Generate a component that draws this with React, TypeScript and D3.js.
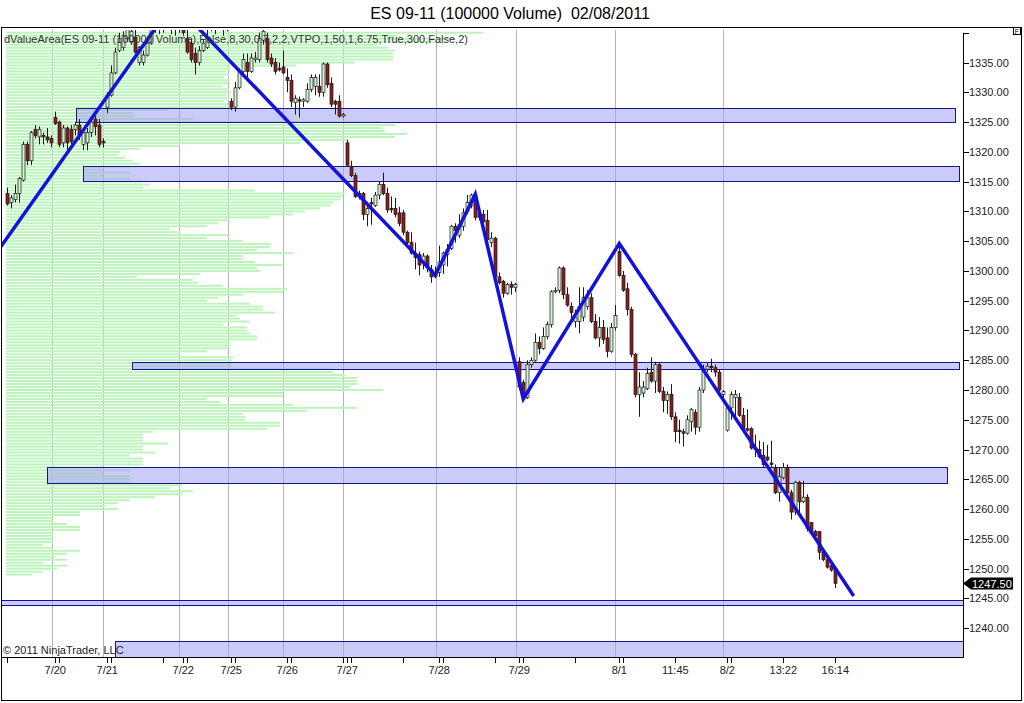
import * as d3 from "d3";

const chartTitle = "ES 09-11 (100000 Volume)  02/08/2011";
const indicatorLabel =
  "dValueArea(ES 09-11 (100000 Volume),False,8,30,0.7,2,2,VTPO,1,50,1,6.75,True,300,False,2)";
const copyright = "© 2011 NinjaTrader, LLC";

// open, high, low, close for each 100000-contract bar
const bars: [number, number, number, number][] = [
  [1313, 1314, 1311, 1311.25], [1311.5, 1312.75, 1310.5, 1312.25], [1312, 1314.5, 1311.5, 1313], [1313, 1315.75, 1311.5, 1315.5],
  [1315.25, 1321.75, 1315, 1321.25], [1321.25, 1321.75, 1317.75, 1318.5], [1318.5, 1323.5, 1317.75, 1323.25], [1323.75, 1324.5, 1322.25, 1322.75],
  [1322.5, 1324.25, 1321.25, 1323.75], [1322.75, 1323.25, 1321.25, 1322.5], [1322.5, 1324, 1321.5, 1322], [1322.25, 1322.75, 1320.75, 1321.5],
  [1325.75, 1326.75, 1324.5, 1324.75], [1325, 1325.25, 1320.75, 1321.25], [1321.5, 1324.5, 1320.75, 1324], [1324, 1324.25, 1320.25, 1321.5],
  [1323.75, 1324.5, 1321.25, 1321.75], [1323.75, 1325, 1322.75, 1324.5], [1324.5, 1325.5, 1322, 1322.75], [1321.25, 1324, 1320.25, 1323.25],
  [1321.5, 1324, 1320.25, 1323.25], [1323.25, 1325.75, 1322.5, 1325], [1325.5, 1326, 1322.75, 1324.25], [1324.5, 1325.5, 1320.75, 1321.25],
  [1321.75, 1322.25, 1320.75, 1321.5], [1327.5, 1330, 1326.5, 1329.5], [1329.5, 1334.5, 1329.25, 1333.25], [1333.25, 1337.5, 1333, 1336.75],
  [1337, 1340, 1336.75, 1339], [1337.5, 1340.25, 1337, 1339.5], [1339, 1342, 1338.5, 1341], [1338.5, 1341.5, 1338, 1340.25],
  [1339.25, 1340.5, 1336.5, 1336.75], [1335, 1337.75, 1334.5, 1337.5], [1335, 1337, 1334.5, 1336.25], [1336.25, 1338.75, 1336, 1338.25],
  [1338.25, 1342, 1338, 1341.5], [1341.5, 1343.5, 1340, 1342.75], [1342.75, 1344, 1339.75, 1341], [1341, 1343, 1340, 1342.5],
  [1342.5, 1345, 1341.5, 1344.25], [1344.25, 1345.25, 1339.75, 1341.5], [1341.5, 1344, 1339.5, 1343], [1343, 1343.75, 1340, 1341.25],
  [1341.25, 1342, 1339.5, 1340], [1339, 1340.5, 1336.5, 1336.75], [1338.25, 1339, 1335, 1335.5], [1336.5, 1337.5, 1333, 1335],
  [1335, 1337.75, 1334.5, 1337], [1337, 1338.75, 1336.75, 1338.25], [1337.5, 1340.5, 1337.25, 1339], [1340.75, 1343, 1340.25, 1342.5],
  [1342.5, 1343.5, 1339.75, 1341], [1341, 1342.5, 1340.5, 1342], [1342, 1342.5, 1339.5, 1340.75], [1340.75, 1341.75, 1340.25, 1341.25],
  [1328.5, 1329, 1327, 1327.5], [1327.5, 1331.75, 1326.75, 1330.75], [1330.75, 1334, 1330.5, 1333.5], [1333.5, 1336.5, 1332.5, 1335.5],
  [1335, 1336.5, 1332.5, 1333.5], [1333.5, 1336.5, 1333.25, 1335.75], [1335.5, 1336.75, 1335, 1335.75], [1335.5, 1340, 1335, 1339],
  [1338.75, 1341, 1338, 1340.25], [1339, 1340, 1335, 1335.5], [1335.75, 1336.5, 1334.25, 1334.75], [1335, 1335.75, 1333, 1333.5],
  [1334, 1335, 1333.5, 1333.75], [1334.25, 1337, 1333, 1333.25], [1332.5, 1334, 1330, 1332], [1332, 1333, 1327.5, 1328.5],
  [1328.25, 1329.5, 1326.25, 1329], [1328.75, 1329.25, 1325.75, 1328.5], [1328.5, 1329, 1327.5, 1328.75], [1328.5, 1331.5, 1328.25, 1330.5],
  [1330.5, 1333, 1330, 1332.5], [1331, 1333, 1329.5, 1332.5], [1331, 1333, 1329.25, 1330], [1330, 1335, 1329.25, 1334.75],
  [1334.75, 1335, 1330.75, 1331.25], [1331.5, 1332.5, 1327.5, 1328], [1328.5, 1328.75, 1326.25, 1328], [1328.5, 1329.5, 1325.75, 1326],
  [1326, 1326.5, 1325.75, 1326.25], [1321.5, 1322, 1317.5, 1317.75], [1317.5, 1318.5, 1315.75, 1316], [1316, 1316.5, 1312.25, 1312.5],
  [1313, 1313.5, 1312, 1312.5], [1313, 1313.25, 1308.5, 1309.5], [1309.5, 1311.5, 1307.5, 1310.5], [1311.5, 1312.25, 1307.75, 1311.25],
  [1311, 1313.25, 1310.75, 1312.75], [1312.75, 1315, 1312, 1314.5], [1314.5, 1316.5, 1312.75, 1313], [1313, 1314, 1309.75, 1310.25],
  [1310.5, 1312.5, 1309.75, 1310.25], [1310.5, 1312.25, 1309, 1309.5], [1309.75, 1310.75, 1307.5, 1308], [1309.75, 1310.25, 1306, 1306.5],
  [1306.5, 1306.75, 1304, 1304.75], [1304.75, 1306.5, 1302.75, 1303], [1303, 1304.75, 1300.25, 1302.25], [1302.75, 1303.25, 1299.25, 1301],
  [1301.5, 1303, 1300.25, 1302.5], [1302.5, 1302.75, 1299.75, 1300.5], [1300.25, 1301, 1298, 1299], [1299, 1300.75, 1298.75, 1299.75],
  [1299.75, 1304.25, 1299, 1301.5], [1301, 1303.25, 1299.5, 1303], [1302.75, 1304.5, 1300.75, 1303.5], [1303.75, 1307.75, 1303.5, 1307.5],
  [1307.5, 1308, 1304.75, 1306.75], [1306, 1309.5, 1305.5, 1307.75], [1307.5, 1310.5, 1306.75, 1309.75], [1310, 1312.75, 1309.5, 1311.5],
  [1311, 1313, 1310.5, 1312.75], [1312.75, 1313.25, 1308.5, 1309], [1309.75, 1310.25, 1308.5, 1309], [1309.5, 1310.25, 1307.75, 1308.25],
  [1308.5, 1310.25, 1304.75, 1305.25], [1304.75, 1306.5, 1304, 1305.5], [1305.5, 1305.75, 1298.75, 1299], [1299, 1299.75, 1297.75, 1298],
  [1298.25, 1298.5, 1295.5, 1296.25], [1296.25, 1298, 1296, 1297.75], [1297.75, 1298.25, 1296, 1297.25], [1297.25, 1298, 1296.5, 1297.75],
  [1284.75, 1285.5, 1280, 1280.5], [1281.25, 1281.75, 1278.25, 1278.75], [1278.75, 1285, 1278.5, 1284.25], [1284.25, 1285.5, 1283.75, 1285],
  [1285, 1289.5, 1284.75, 1288], [1288, 1289, 1286, 1287], [1287, 1290.5, 1286.75, 1289], [1289, 1291.5, 1288.5, 1291],
  [1291, 1296.75, 1290.5, 1296.5], [1296.5, 1297.25, 1296.25, 1296.75], [1296.75, 1300.75, 1296.25, 1300.5], [1300.5, 1300.75, 1295.25, 1296],
  [1296, 1297.25, 1294, 1294.25], [1294, 1294.75, 1291.75, 1293], [1291.5, 1293.5, 1290.5, 1292.25], [1291.5, 1297.25, 1289.5, 1294],
  [1292.25, 1297.25, 1291.5, 1295.5], [1294, 1296.75, 1293.5, 1295.5], [1295.5, 1296.25, 1291.25, 1291.5], [1291.5, 1292.75, 1288.5, 1288.75],
  [1288.75, 1292.25, 1287.25, 1290.5], [1290.5, 1291.75, 1287.75, 1288.5], [1288.75, 1290.5, 1285.5, 1286.5], [1286.5, 1291.25, 1286.25, 1290.5],
  [1290.5, 1294.25, 1290, 1292.5], [1303.25, 1304.5, 1299, 1299.25], [1299.25, 1300, 1296.5, 1296.75], [1297, 1298, 1292.5, 1293.5],
  [1293.5, 1294, 1285.5, 1286], [1286, 1286.25, 1278.75, 1279.25], [1279.25, 1283, 1275.5, 1280.5], [1279.5, 1281.5, 1278.75, 1280.5],
  [1280.25, 1283.75, 1280, 1282.75], [1283, 1285.5, 1281.25, 1281.5], [1281.5, 1284.75, 1279.5, 1284.25], [1284.25, 1284.5, 1279.5, 1279.75],
  [1279.75, 1280.5, 1276.25, 1278.25], [1278.25, 1279.75, 1276, 1279.25], [1279.25, 1281, 1275, 1275.5], [1275.5, 1276.25, 1271.25, 1273],
  [1273.25, 1275, 1271, 1273], [1273, 1273.5, 1270.5, 1272.75], [1272.75, 1275.75, 1272.5, 1275], [1274.75, 1277, 1273, 1276.75],
  [1276.25, 1276.75, 1272.5, 1273.75], [1273.75, 1280.5, 1273, 1280], [1280, 1284.25, 1279.5, 1283.5], [1283.5, 1284.5, 1283, 1284],
  [1284, 1285.25, 1283, 1283.75], [1283.75, 1284.25, 1282.25, 1283], [1283, 1283.5, 1279.75, 1280], [1279.25, 1280, 1278.75, 1279.75],
  [1273.25, 1277.5, 1273, 1277], [1277, 1279.75, 1275, 1279.25], [1278.75, 1280, 1275.5, 1279.25], [1278.75, 1279.5, 1275.5, 1275.75],
  [1275.75, 1277, 1273.25, 1273.5], [1273.5, 1276.75, 1273, 1273.25], [1273.5, 1273.75, 1270, 1270.25], [1270.25, 1272.5, 1268.75, 1270],
  [1270, 1271.5, 1268.5, 1268.75], [1269, 1271.25, 1267, 1267.5], [1268.75, 1270.75, 1268, 1268.25], [1267.75, 1271.5, 1267, 1267.5],
  [1267, 1267.5, 1262.5, 1262.75], [1262.75, 1267, 1261.25, 1265.5], [1265.25, 1267.75, 1265, 1267], [1267, 1267.5, 1262.5, 1262.75],
  [1262.75, 1263.25, 1258.25, 1259.5], [1259.5, 1264.75, 1259, 1264.5], [1264.5, 1264.75, 1259.5, 1261.25], [1261.25, 1264.75, 1261, 1262],
  [1262, 1262.5, 1256.25, 1256.75], [1257.75, 1257.75, 1255.75, 1256], [1256.25, 1256.5, 1255.25, 1255.5], [1256.25, 1256.25, 1251.5, 1252.75],
  [1252.75, 1253, 1251.25, 1251.5], [1251.5, 1251.75, 1250, 1250.25], [1250.5, 1251, 1249.5, 1249.75], [1250, 1250.25, 1246.75, 1247.5],
];

// volume profile, one row per half point from the top level downward
const profileTop = 1340;
const profileStep = 0.5;
const profileVolume = [
  477, 391, 449, 434, 372, 382, 389, 387, 387, 387, 349, 290, 224, 220, 223, 218, 224, 222, 216, 223,
  225, 220, 223, 218, 222, 224, 162, 127, 127, 187, 374, 389, 376, 379, 401, 389, 342, 294, 174, 134,
  114, 112, 119, 126, 134, 124, 97, 124, 97, 124, 137, 144, 137, 249, 339, 337, 334, 327, 324, 314,
  299, 287, 264, 224, 212, 201, 164, 174, 224, 201, 237, 264, 264, 251, 287, 237, 237, 249, 276, 251,
  254, 194, 131, 187, 192, 217, 281, 277, 237, 212, 201, 244, 257, 257, 269, 231, 234, 244, 217, 241,
  241, 244, 251, 251, 224, 224, 224, 201, 174, 227, 226, 226, 226, 327, 327, 339, 351, 351, 351, 344,
  377, 277, 277, 201, 214, 287, 351, 301, 237, 239, 239, 274, 274, 261, 147, 137, 137, 137, 162, 137,
  137, 149, 124, 137, 137, 137, 97, 124, 97, 124, 124, 124, 176, 164, 187, 176, 149, 124, 112, 99,
  112, 74, 74, 47, 47, 61, 74, 74, 47, 47, 47, 47, 37, 47, 74, 61, 49, 61, 37, 61,
  51, 37, 26,
];

// value-area zones: bar index span and price span
const zoneFrom = [17.1, 19, 31.1, 10, -3, 26.9];
const zoneTo = [236.9, 238, 237.9, 235, 240, 240];
const zoneLow = [1325, 1315, 1283.5, 1264.33, 1243.85, 1234];
const zoneHigh = [1327.3, 1317.6, 1284.75, 1267, 1244.75, 1237.85];

// zigzag swing points
const swingBar = [-4, 41.6, 107, 117, 129, 153, 211.6];
const swingPrice = [1301.8, 1345.1, 1299.3, 1312.9, 1278.5, 1304.6, 1245.4];

const priceTicks = [1240, 1245, 1250, 1255, 1260, 1265, 1270, 1275, 1280, 1285, 1290, 1295, 1300, 1305, 1310, 1315, 1320, 1325, 1330, 1335, 1340];
const lastPrice = 1247.5;

const sessionBreaks = [11.2, 23.9, 42.9, 55.2, 68.9, 83.9, 107.2, 127.2, 151.9, 178.9];
const tickBars = [0, 12, 13, 25, 26, 39, 44, 45, 56, 57, 70, 71, 84, 85, 86, 99, 108, 109, 122, 128, 129, 142, 153, 154, 167, 180, 181, 194, 207];
const labelBars = [12, 25, 44, 56, 70, 85, 108, 128, 153, 167, 180, 194, 207];
const labelText = ["7/20", "7/21", "7/22", "7/25", "7/26", "7/27", "7/28", "7/29", "8/1", "11:45", "8/2", "13:22", "16:14"];

const FONT = "'Liberation Sans', Arial, sans-serif";
const LEFT = 1;
const RIGHT = 963;
const TOP = 30;
const BOTTOM = 657;

export default function App() {
  const x = d3.scaleLinear().domain([0, 207]).range([7.3, 835.3]);
  const y = d3.scaleLinear().domain([1240, 1335]).range([628.2, 62.5]);
  const vol = d3.scaleLinear().domain([0, 957]).range([6, 963]);
  const snap = (v: number) => Math.round(v) + 0.5;

  const zig = d3
    .line<number>()
    .x((i) => x(swingBar[i]))
    .y((i) => y(swingPrice[i]))(swingBar.map((_, i) => i));

  const lastY = y(lastPrice);

  return (
    <svg
      width={1024}
      height={703}
      style={{ position: "absolute", left: 0, top: 0, background: "#fff" }}
      fontFamily={FONT}
    >
      <defs>
        <clipPath id="plot">
          <rect x={LEFT} y={TOP} width={RIGHT - LEFT} height={BOTTOM - TOP} />
        </clipPath>
      </defs>
      <text x={510} y={18.5} fontSize={16} textAnchor="middle" fill="#000" style={{ whiteSpace: "pre" }}>
        {chartTitle}
      </text>

      <g clipPath="url(#plot)">
        {sessionBreaks.map((b, i) => (
          <line key={i} x1={snap(x(b))} x2={snap(x(b))} y1={27} y2={BOTTOM} stroke="#b4b4b4" strokeWidth={1} />
        ))}
        {profileVolume.map((v, j) => (
          <rect
            key={j}
            x={vol(0)}
            y={y(profileTop - j * profileStep) - 1}
            width={vol(v) - vol(0)}
            height={2}
            fill="#bcf4bc"
          />
        ))}
        {zoneFrom.map((f, i) => (
          <rect
            key={i}
            x={snap(x(f))}
            y={snap(y(zoneHigh[i]))}
            width={Math.round(x(zoneTo[i]) - x(f))}
            height={Math.round(y(zoneLow[i]) - y(zoneHigh[i]))}
            fill="rgb(160,160,240)"
            fillOpacity={0.55}
            stroke="#14148c"
            strokeWidth={1}
          />
        ))}
        {bars.map(([o, h, l, c], i) => {
          const cx = snap(x(i));
          const up = c >= o;
          const top = y(Math.max(o, c));
          const bot = y(Math.min(o, c));
          return (
            <g key={i}>
              <line x1={cx} x2={cx} y1={y(h)} y2={y(l)} stroke="#1a1a1a" strokeWidth={1} />
              <rect
                x={cx - 1.5}
                y={top}
                width={3}
                height={Math.max(bot - top, 1)}
                fill={up ? "#d2f2d2" : "#8e1b1b"}
                stroke="#1a1a1a"
                strokeWidth={0.7}
              />
            </g>
          );
        })}
        <path d={zig ?? ""} fill="none" stroke="#1212dc" strokeWidth={3.5} />
      </g>

      <text x={4} y={43} fontSize={11} fill="#333">
        {indicatorLabel}
      </text>
      <text x={3} y={654} fontSize={11} fill="#222">
        {copyright}
      </text>

      {/* price axis */}
      <line x1={RIGHT + 0.5} x2={RIGHT + 0.5} y1={y(1340)} y2={BOTTOM} stroke="#000" />
      {priceTicks.map((p) => (
        <g key={p}>
          <line x1={RIGHT} x2={RIGHT + 6} y1={snap(y(p))} y2={snap(y(p))} stroke="#000" />
          {p < 1340 && (
            <text x={969} y={y(p) + 4} fontSize={11} fill="#222">
              {p.toFixed(2)}
            </text>
          )}
        </g>
      ))}
      <path
        d={`M${RIGHT},${lastY} L${RIGHT + 8},${lastY - 6} L1013,${lastY - 6} L1013,${lastY + 6} L${RIGHT + 8},${lastY + 6} Z`}
        fill="#000"
      />
      <text x={972} y={lastY + 4} fontSize={11} fill="#fff">
        {lastPrice.toFixed(2)}
      </text>

      {/* time axis */}
      <line x1={LEFT} x2={RIGHT + 1} y1={BOTTOM + 0.5} y2={BOTTOM + 0.5} stroke="#000" />
      {tickBars.map((b) => (
        <line key={b} x1={snap(x(b))} x2={snap(x(b))} y1={BOTTOM} y2={BOTTOM + 6} stroke="#000" />
      ))}
      {labelBars.map((b, i) => (
        <text key={b} x={x(b)} y={673.5} fontSize={11} fill="#222" textAnchor="middle">
          {labelText[i]}
        </text>
      ))}

      {/* frame */}
      <rect x={1.5} y={27.5} width={1020} height={673} fill="none" stroke="#000" />
      <rect x={1013.5} y={27.5} width={7} height={7} fill="#fff" stroke="#000" />
      <text x={1017} y={33.5} fontSize={7} textAnchor="middle" fill="#000">
        F
      </text>
    </svg>
  );
}
